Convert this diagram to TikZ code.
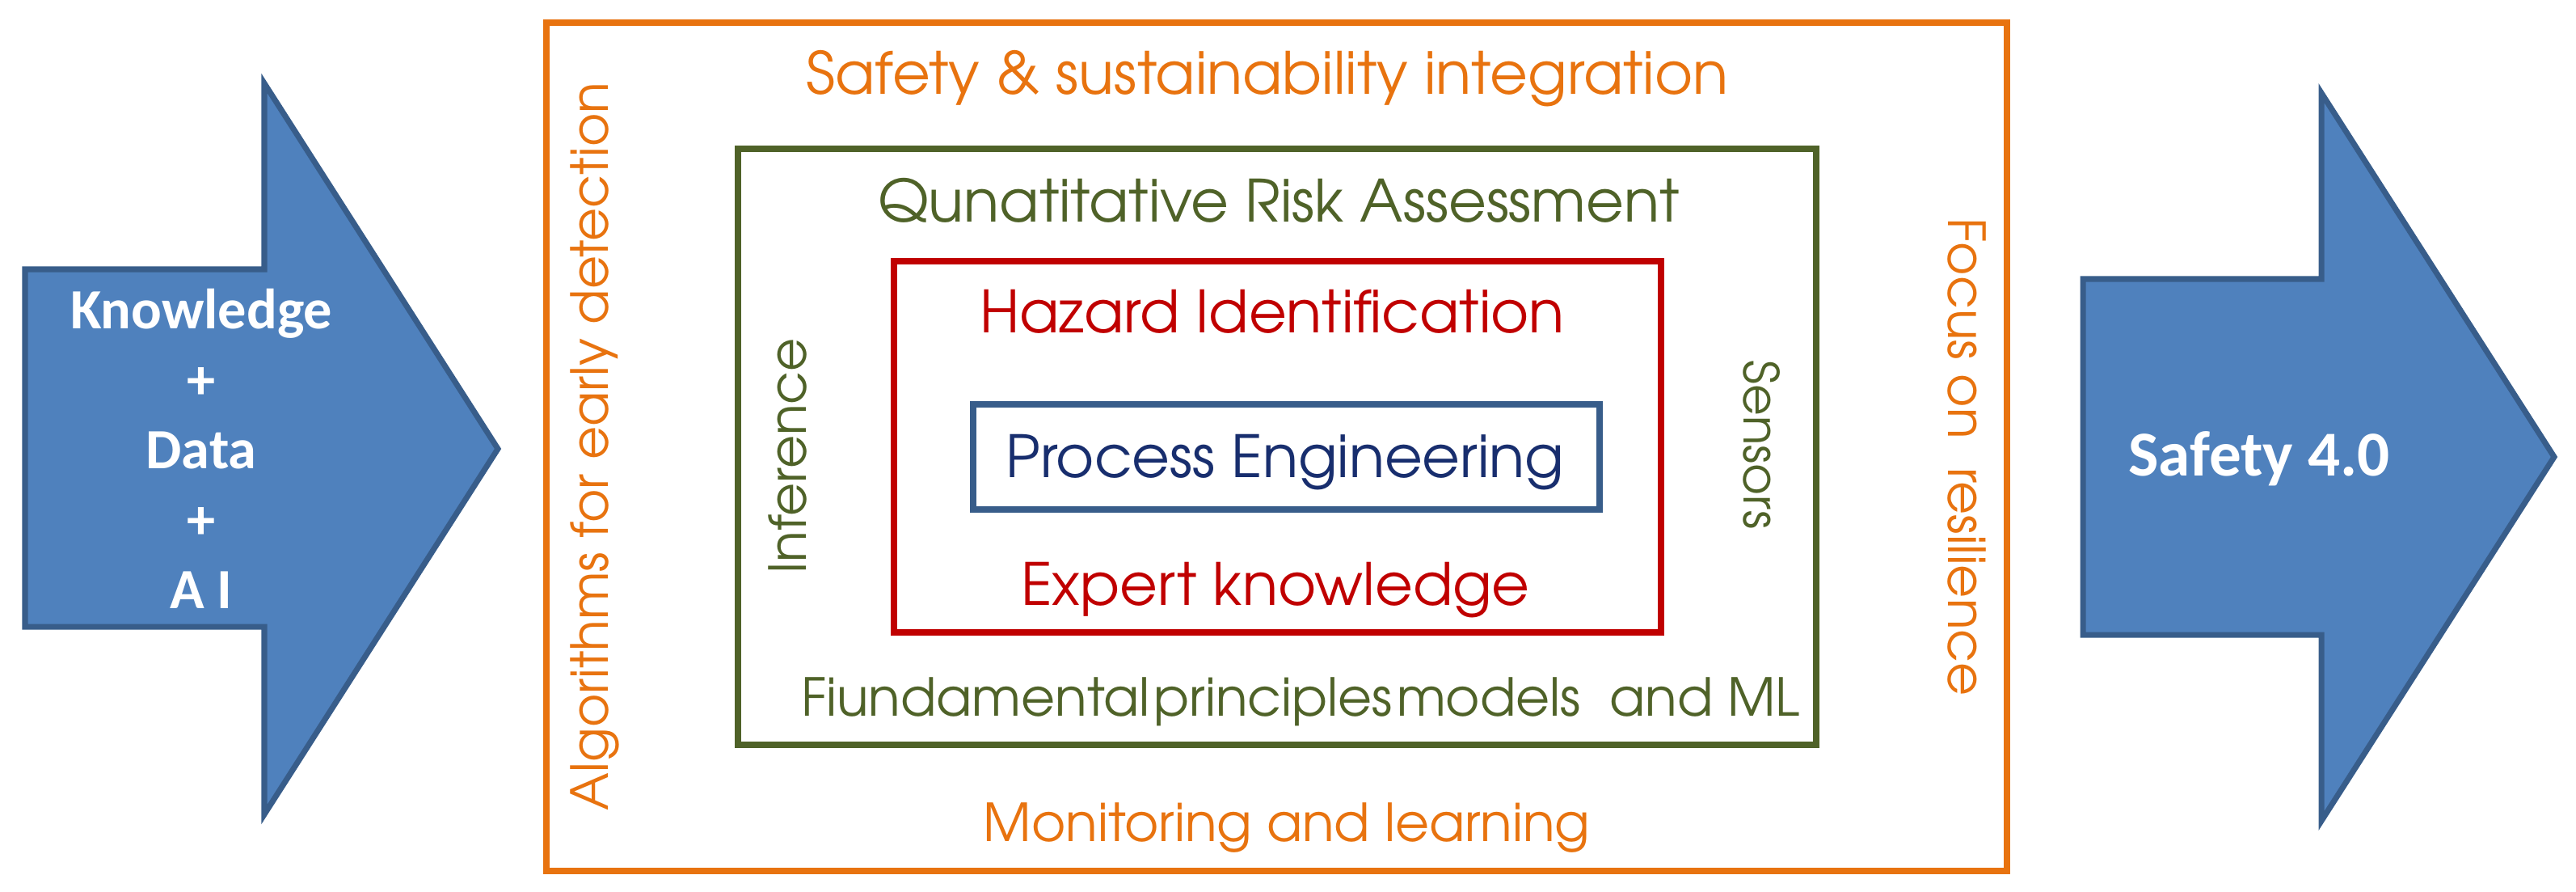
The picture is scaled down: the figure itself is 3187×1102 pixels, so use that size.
\documentclass[tikz,border=0pt]{standalone}
\usepackage{fontspec}
\setmainfont{TeX Gyre Adventor}
\newfontfamily\arrowfont{Carlito}
\definecolor{orng}{HTML}{E8730F}
\definecolor{olive}{HTML}{4F6228}
\definecolor{hazred}{HTML}{C00000}
\definecolor{boxblue}{HTML}{385D8A}
\definecolor{navy}{HTML}{182E6E}
\definecolor{arrowfill}{HTML}{4F81BD}
\definecolor{arrowline}{HTML}{385D8A}

\begin{document}
\begin{tikzpicture}[x=0.01cm,y=-0.01cm,
    frame/.style={line width=2.1pt},
    lbl/.style={inner sep=0pt,anchor=base,font=\fontsize{18.4}{22}\selectfont},
    biglbl/.style={lbl,font=\fontsize{20.5}{24}\selectfont},
    sidelbl/.style={lbl,font=\fontsize{18}{22}\selectfont},
    bigarrow/.style={fill=arrowfill,draw=arrowline,line width=2pt,line join=miter},
    arrowtext/.style={text=white,align=center,inner sep=0pt}]
        \useasboundingbox (0,0) rectangle (3187,1102);
        % arrows in and out
        \draw[bigarrow] (31,333) -- (327,333) -- (327,103) -- (616,555) -- (327,1007) -- (327,775) -- (31,775) -- cycle;
        \draw[bigarrow] (2577,345) -- (2872,345) -- (2872,115) -- (3160,565) -- (2872,1015) -- (2872,785) -- (2577,785) -- cycle;
        \node[arrowtext,font=\arrowfont\bfseries\fontsize{20}{24.6}\selectfont] (input) at (249,555) {Knowledge\\+\\Data\\+\\A I};
        \node[arrowtext,font=\arrowfont\bfseries\fontsize{22.5}{27}\selectfont] (output) at (2795,567) {Safety 4.0};
        % nested frames
        \draw[frame,orng] (676,28) rectangle (2483,1077);
        \draw[frame,olive] (913,184) rectangle (2247,921);
        \draw[frame,hazred] (1106,323) rectangle (2055,782);
        \draw[frame,boxblue] (1204,500) rectangle (1979,630);
        % labels
        \node[biglbl,orng] (integ) at (1568,116) {Safety \& sustainability integration};
        \node[lbl,orng] (monit) at (1592,1040) {Monitoring and learning};
        \node[sidelbl,orng,rotate=90] (algo) at (752,552) {Algorithms for early detection};
        \node[sidelbl,orng,rotate=-90] (focus) at (2410,565) {Focus on~~resilience};
        \node[biglbl,olive] (qra) at (1582,274) {Qunatitative Risk Assessment};
        \node[lbl,olive] (fund) at (1609,885) {Fiundamental\hspace{0.08em}principles\hspace{0.08em}models~~and ML};
        \node[sidelbl,olive,rotate=90] (infer) at (997,564) {Inference};
        \node[sidelbl,olive,rotate=-90,font=\fontsize{17}{20}\selectfont] (sens) at (2157,550) {Sensors};
        \node[biglbl,hazred] (hazid) at (1574,411) {Hazard Identification};
        \node[biglbl,hazred] (expert) at (1578,748) {Expert knowledge};
        \node[biglbl,navy] (proc) at (1590,590) {Process Engineering};
\end{tikzpicture}
\end{document}
